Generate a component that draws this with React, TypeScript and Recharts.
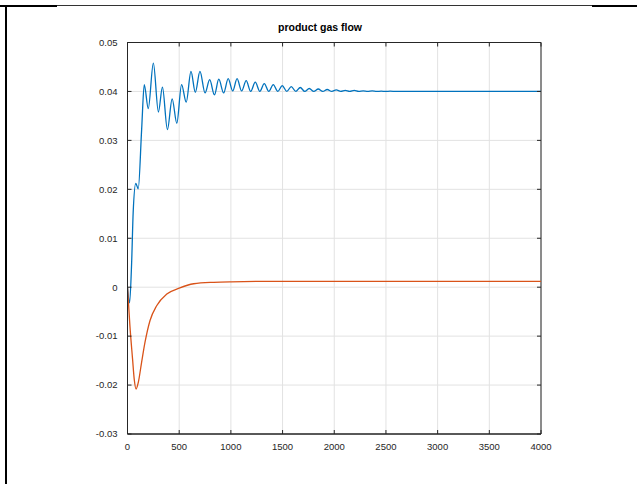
import { CartesianGrid, Line, LineChart, ReferenceArea, XAxis, YAxis } from "recharts"

// time axis samples (s) and flow values
const blueTime = [
  0, 20, 40, 55, 80, 104, 137, 162, 201, 250, 299, 338, 386, 432, 477, 523, 568,
  614, 656, 701, 750, 795, 841, 883, 930, 974, 1018, 1060, 1104, 1148, 1192,
  1236, 1280, 1323, 1367, 1410, 1454, 1497, 1541, 1584, 1628, 1671, 1715, 1758,
  1802, 1845, 1889, 1932, 1976, 2019, 2063, 2106, 2150, 2193, 2237, 2280, 2324,
  2367, 2411, 2454, 2498, 2541, 2600, 4000,
]
const blueFlow = [
  0, -0.0032, 0.005, 0.0153, 0.0212, 0.0201, 0.0323, 0.0414, 0.0365, 0.0458,
  0.0358, 0.0409, 0.0322, 0.0385, 0.0335, 0.0414, 0.0378, 0.0441, 0.0398,
  0.0441, 0.0397, 0.0424, 0.0393, 0.0425, 0.0397, 0.0426, 0.0401, 0.0426,
  0.0401, 0.0422, 0.04, 0.0419, 0.04, 0.0416, 0.04, 0.0414, 0.04, 0.0412, 0.04,
  0.041, 0.04, 0.0408, 0.04, 0.0406, 0.04, 0.0405, 0.04, 0.0404, 0.04, 0.0403,
  0.04, 0.0402, 0.04, 0.0402, 0.04, 0.0401, 0.04, 0.0401, 0.04, 0.04005, 0.04,
  0.04005, 0.04, 0.04,
]

const redTime = [
  0, 23, 49, 65, 83, 104, 136, 169, 218, 282, 380, 500, 640, 834, 1003, 1500,
  4000,
]
const redFlow = [
  0, -0.0078, -0.0147, -0.0188, -0.0208, -0.0195, -0.0154, -0.0113, -0.0068,
  -0.0038, -0.0014, -0.0002, 0.0007, 0.001, 0.0011, 0.0012, 0.0012,
]

const xTicks = [0, 500, 1000, 1500, 2000, 2500, 3000, 3500, 4000]
const yTicks = [-0.03, -0.02, -0.01, 0, 0.01, 0.02, 0.03, 0.04, 0.05]

const blueData = blueTime.map((t, i) => ({ t, v: blueFlow[i] }))
const redData = redTime.map((t, i) => ({ t, v: redFlow[i] }))

const W = 637
const H = 484
const PLOT_LEFT = 127.5
const PLOT_RIGHT = 541
const PLOT_TOP = 42.5
const PLOT_BOTTOM = 434
const Y_AXIS_W = 60
const X_AXIS_H = 30
const TICK_LEN = 4
const AXIS_COLOR = "#262626"
const FONT = "'Liberation Sans', Arial, Helvetica, sans-serif"

// matlab style: ticks point inward, mirrored on the opposite side
function XTick(props: any) {
  const { x, y, payload } = props
  return (
    <g>
      <line x1={x} x2={x} y1={PLOT_BOTTOM} y2={PLOT_BOTTOM - TICK_LEN} stroke={AXIS_COLOR} />
      <line x1={x} x2={x} y1={PLOT_TOP} y2={PLOT_TOP + TICK_LEN} stroke={AXIS_COLOR} />
      <text x={x} y={y} dy="0.71em" textAnchor="middle" fill={AXIS_COLOR} fontSize={9.5} fontFamily={FONT}>
        {payload.value}
      </text>
    </g>
  )
}

function YTick(props: any) {
  const { x, y, payload } = props
  return (
    <g>
      <line x1={PLOT_LEFT} x2={PLOT_LEFT + TICK_LEN} y1={y} y2={y} stroke={AXIS_COLOR} />
      <line x1={PLOT_RIGHT} x2={PLOT_RIGHT - TICK_LEN} y1={y} y2={y} stroke={AXIS_COLOR} />
      <text x={x} y={y} dy="0.355em" textAnchor="end" fill={AXIS_COLOR} fontSize={9.5} fontFamily={FONT}>
        {payload.value}
      </text>
    </g>
  )
}

export default function App() {
  return (
    <div style={{ position: "absolute", left: 0, top: 0, width: W, height: H, background: "#fff" }}>
      {/* figure frame remnants */}
      <div style={{ position: "absolute", left: 0, top: 5, width: W, height: 1, background: "#333" }} />
      <div style={{ position: "absolute", left: 0, top: 5, width: 57, height: 2, background: "#000" }} />
      <div style={{ position: "absolute", left: 592, top: 5, width: 45, height: 2, background: "#000" }} />
      <div style={{ position: "absolute", left: 5, top: 5, width: 2, height: H - 5, background: "#000" }} />
      <div
        style={{
          position: "absolute",
          left: 220,
          width: 200,
          top: 20,
          textAlign: "center",
          fontFamily: FONT,
          fontWeight: "bold",
          fontSize: 10.5,
          lineHeight: "14px",
          color: "#000",
        }}
      >
        product gas flow
      </div>
      <LineChart
        width={W}
        height={H}
        margin={{
          top: PLOT_TOP,
          right: W - PLOT_RIGHT,
          bottom: H - PLOT_BOTTOM - X_AXIS_H,
          left: PLOT_LEFT - Y_AXIS_W,
        }}
        style={{ position: "absolute", left: 0, top: 0 }}
      >
        <CartesianGrid stroke="#e2e2e2" />
        <XAxis
          dataKey="t"
          type="number"
          domain={[0, 4000]}
          ticks={xTicks}
          height={X_AXIS_H}
          tickSize={0}
          tickMargin={9}
          tickLine={false}
          axisLine={{ stroke: AXIS_COLOR }}
          tick={<XTick />}
          allowDataOverflow
        />
        <YAxis
          type="number"
          domain={[-0.03, 0.05]}
          ticks={yTicks}
          width={Y_AXIS_W}
          tickSize={0}
          tickMargin={10}
          tickLine={false}
          axisLine={{ stroke: AXIS_COLOR }}
          tick={<YTick />}
          allowDataOverflow
        />
        <ReferenceArea x1={0} x2={4000} y1={-0.03} y2={0.05} fill="none" stroke={AXIS_COLOR} strokeWidth={1} />
        <Line
          data={blueData}
          dataKey="v"
          type="monotone"
          stroke="#0072BD"
          strokeWidth={1.3}
          dot={false}
          isAnimationActive={false}
        />
        <Line
          data={redData}
          dataKey="v"
          type="monotone"
          stroke="#D95319"
          strokeWidth={1.3}
          dot={false}
          isAnimationActive={false}
        />
      </LineChart>
    </div>
  )
}
